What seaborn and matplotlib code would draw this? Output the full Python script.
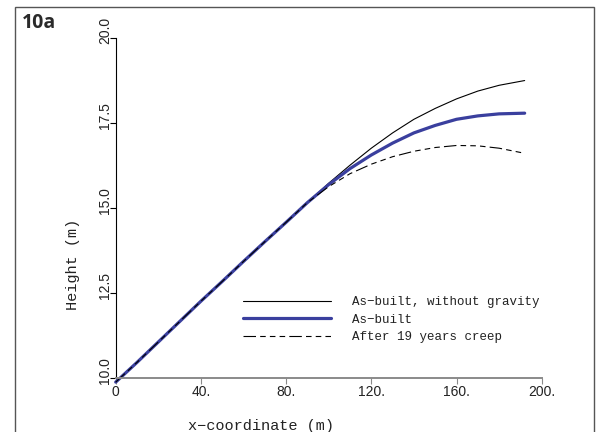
import matplotlib
matplotlib.use("Agg")
import matplotlib.pyplot as plt
import matplotlib.transforms as mtransforms
from matplotlib.patches import Rectangle
import seaborn as sns
import pandas as pd

# ---- data ----
x_common = [0, 10, 20, 30, 40, 50, 60, 70, 80, 90]
y_common = [9.87, 10.45, 11.05, 11.65, 12.25, 12.83, 13.42, 14.0, 14.57, 15.15]

x_tail = [100, 110, 120, 130, 140, 150, 160, 170, 180, 192]
y_no_gravity = [15.72, 16.25, 16.75, 17.2, 17.6, 17.92, 18.2, 18.43, 18.6, 18.74]
y_as_built = [15.68, 16.15, 16.55, 16.9, 17.2, 17.42, 17.6, 17.7, 17.76, 17.78]
y_creep = [15.62, 16.0, 16.28, 16.5, 16.66, 16.77, 16.83, 16.82, 16.75, 16.6]

labels = ["As\u2212built, without gravity", "As\u2212built", "After 19 years creep"]
x_ticks = [0, 40, 80, 120, 160, 200]
x_ticklabels = ["0", "40.", "80.", "120.", "160.", "200."]
y_ticks = [10.0, 12.5, 15.0, 17.5, 20.0]
y_ticklabels = ["10.0", "12.5", "15.0", "17.5", "20.0"]

sns.set_theme(style="white")
plt.rcParams["font.family"] = ["Liberation Sans", "DejaVu Sans"]
plt.rcParams["lines.scale_dashes"] = False

fig = plt.figure(figsize=(6.01, 4.32), dpi=100)
W, H = 601, 432
left, right, bottom_px, top_px = 115.7, 541.7, 377.7, 37.7
ax = fig.add_axes([left / W, 1 - bottom_px / H, (right - left) / W, (bottom_px - top_px) / H])

xs = x_common + x_tail
series = [y_common + y_no_gravity, y_common + y_as_built, y_common + y_creep]
styles = [
    dict(color="black", linewidth=0.8, linestyle="-"),
    dict(color="#3a3f9e", linewidth=2.3, linestyle="-"),
    dict(color="black", linewidth=0.8, linestyle=(0, (9, 3, 4, 3, 4, 3, 4, 3))),
]
for ys, lab, st in zip(series, labels, styles):
    df = pd.DataFrame({"x": xs, "y": ys})
    sns.lineplot(data=df, x="x", y="y", ax=ax, label=lab, clip_on=False, **st)

ax.set_xlim(0, 200)
ax.set_ylim(10, 20)
ax.set_xticks(x_ticks)
ax.set_xticklabels(x_ticklabels)
ax.set_yticks(y_ticks)
ax.set_yticklabels(y_ticklabels, rotation=90, va="center")

for s in ["top", "right"]:
    ax.spines[s].set_visible(False)
ax.spines["left"].set_color("black")
ax.spines["left"].set_linewidth(0.8)
ax.spines["bottom"].set_color("#8a8a8a")
ax.spines["bottom"].set_linewidth(1.4)

ax.tick_params(axis="y", which="both", left=True, length=4, width=0.8, color="black",
               pad=1, labelsize=10, labelcolor="#222222")
ax.tick_params(axis="x", which="both", bottom=True, length=4, width=0.8, color="#8a8a8a",
               pad=1, labelsize=10, labelcolor="#222222")
offset = mtransforms.ScaledTranslation(3 / 100, 7 / 100, fig.dpi_scale_trans)
for lab in ax.get_yticklabels():
    lab.set_transform(lab.get_transform() + offset)

mono = ["Liberation Mono", "DejaVu Sans Mono"]
ax.set_xlabel("x\u2212coordinate (m)", family=mono, fontsize=11, color="#222222")
ax.xaxis.set_label_coords((261 - left) / (right - left), -(426 - bottom_px) / (bottom_px - top_px))
ax.xaxis.label.set_va("center")
ax.set_ylabel("Height (m)", family=mono, fontsize=11, color="#222222")
ax.yaxis.set_label_coords(-(left - 72.7) / (right - left), (bottom_px - 264) / (bottom_px - top_px))
ax.yaxis.label.set_va("center")

leg = ax.legend(loc="upper left",
                bbox_to_anchor=((243 - left) / (right - left), (bottom_px - 296) / (bottom_px - top_px)),
                frameon=False, borderpad=0, borderaxespad=0, handlelength=7.0,
                handletextpad=1.7, labelspacing=0.45, prop={"family": mono, "size": 9})
for t in leg.get_texts():
    t.set_color("#222222")

# outer panel frame and label
fig.patches.append(Rectangle((15 / W, -0.2), (594 - 15) / W, 1.2 - 7.3 / H,
                             transform=fig.transFigure, fill=False,
                             edgecolor="#555555", linewidth=1.0))
fig.text(22 / W, 1 - 23.5 / H, "10a", fontsize=14, fontweight="bold",
         family=["Open Sans", "DejaVu Sans"], va="center", ha="left", color="#2a2a2a")

fig.savefig("out.png", dpi=100)
